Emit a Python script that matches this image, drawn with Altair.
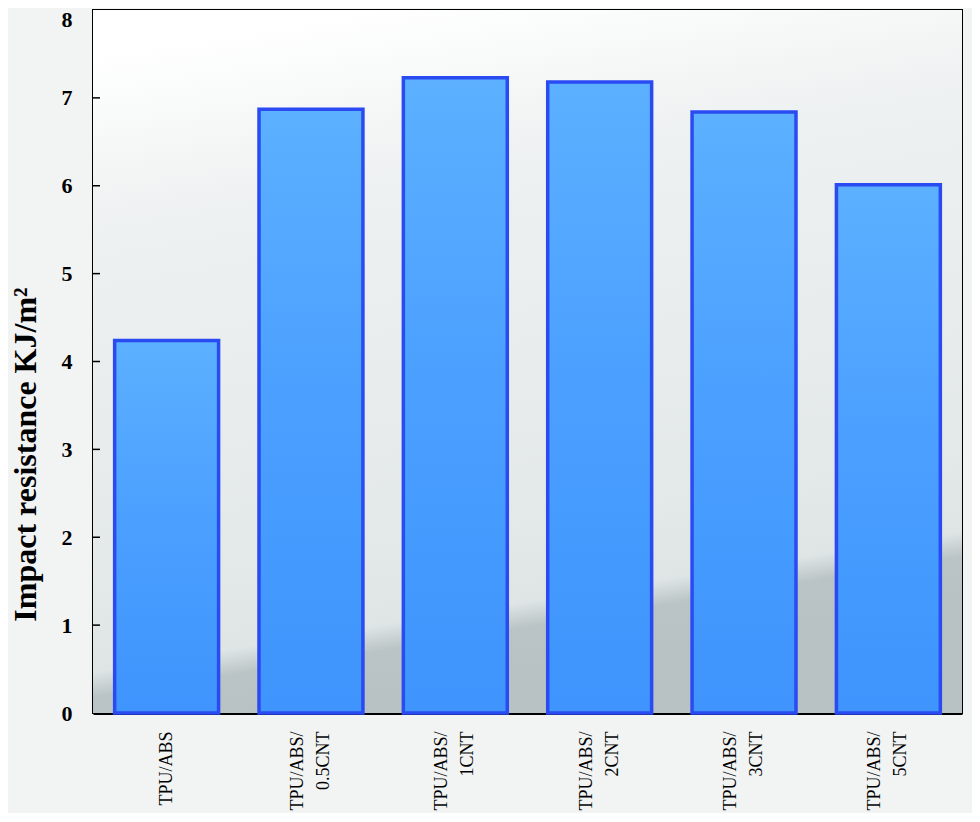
import altair as alt
import pandas as pd

categories = ["TPU/ABS", "TPU/ABS/|0.5CNT", "TPU/ABS/|1CNT", "TPU/ABS/|2CNT", "TPU/ABS/|3CNT", "TPU/ABS/|5CNT"]
values = [4.24, 6.87, 7.23, 7.18, 6.84, 6.01]
y_ticks = [0, 1, 2, 3, 4, 5, 6, 7, 8]
inner_ticks = [1, 2, 3, 4, 5, 6, 7]

bars_df = pd.DataFrame({"cat": categories, "val": values})
ticks_df = pd.DataFrame({"v": inner_ticks})
bg_df = pd.DataFrame({"a": [0]})

FONT = "Times New Roman, Liberation Serif, serif"

bg = alt.Chart(bg_df).mark_rect(
    fill=alt.Gradient(
        gradient="linear",
        x1=0, y1=0, x2=0.2, y2=1,
        stops=[
            alt.GradientStop(color="#ffffff", offset=0),
            alt.GradientStop(color="#ffffff", offset=0.06),
            alt.GradientStop(color="#eef1f1", offset=0.3),
            alt.GradientStop(color="#e3e8e8", offset=0.8),
            alt.GradientStop(color="#dfe5e5", offset=0.905),
            alt.GradientStop(color="#bac4c6", offset=0.94),
            alt.GradientStop(color="#b8c2c4", offset=1),
        ],
    ),
).encode(
    x=alt.value(0), x2=alt.value("width"), y=alt.value(0), y2=alt.value("height")
)

bars = alt.Chart(bars_df).mark_bar(
    fill=alt.Gradient(
        gradient="linear",
        x1=0, y1=0, x2=0, y2=1,
        stops=[
            alt.GradientStop(color="#5cb0ff", offset=0),
            alt.GradientStop(color="#4a9fff", offset=0.5),
            alt.GradientStop(color="#3f94fd", offset=1),
        ],
    ),
    stroke="#2a4af2",
    strokeWidth=3.5,
).encode(
    x=alt.X(
        "cat:N",
        sort=categories,
        scale=alt.Scale(paddingInner=0.28, paddingOuter=0.15),
        axis=alt.Axis(
            title=None,
            labelAngle=-90,
            labelAlign="right",
            labelBaseline="middle",
            labelExpr="split(datum.label, '|')",
            labelFont=FONT,
            labelFontSize=18,
            labelColor="#000000",
            labelLineHeight=26,
            labelPadding=18,
            labelOffset={"condition": {"test": "indexof(datum.value, '|') >= 0", "value": -13}, "value": 0},
            ticks=False,
            domainColor="#000000",
            domainWidth=3,
        ),
    ),
    y=alt.Y(
        "val:Q",
        scale=alt.Scale(domain=[0, 8], nice=False),
        axis=alt.Axis(
            title="Impact resistance KJ/m²",
            titleFont=FONT,
            titleFontSize=32,
            titleFontWeight="bold",
            titleColor="#000000",
            titleX=-68,
            titleY=444,
            titleAlign="center",
            titleBaseline="middle",
            values=y_ticks,
            format="d",
            labelFont=FONT,
            labelFontSize=22,
            labelFontWeight="bold",
            labelColor="#000000",
            labelPadding=21,
            labelOffset={"condition": {"test": "datum.value == 8", "value": 9}, "value": 0},
            ticks=False,
            grid=False,
            domainColor="#000000",
            domainWidth=2.5,
        ),
    ),
)

tick_marks = alt.Chart(ticks_df).mark_rule(color="#000000", strokeWidth=1.5).encode(
    y=alt.Y("v:Q"), x=alt.value(0), x2=alt.value(7)
)

chart = alt.layer(bg, bars, tick_marks).properties(
    width=869,
    height=703,
    background="#f2f4f4",
    autosize=alt.AutoSizeParams(type="none"),
    padding={"left": 85, "top": 2, "right": 10, "bottom": 100},
).configure_view(
    stroke="#000000",
    strokeWidth=2,
)

chart.save("out.html", embed_options={"renderer": "svg", "actions": False})
